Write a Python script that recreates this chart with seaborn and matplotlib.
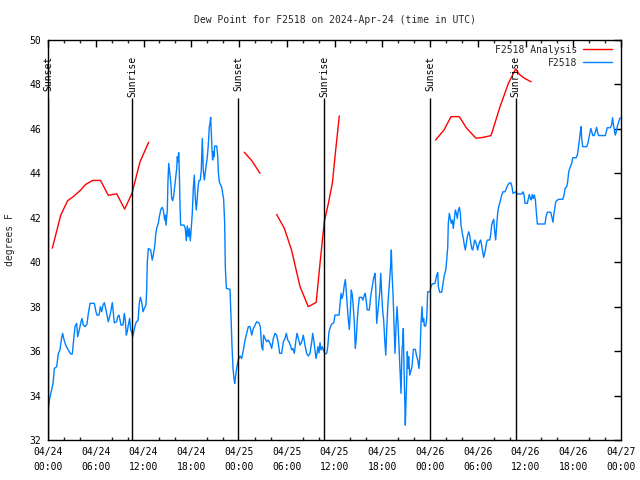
import numpy as np
import pandas as pd
import matplotlib
matplotlib.use("Agg")
import matplotlib.pyplot as plt
import seaborn as sns

title = "Dew Point for F2518 on 2024-Apr-24 (time in UTC)"
ylabel = "degrees F"
series_names = ["F2518 Analysis", "F2518"]
series_colors = ["#ff0000", "#0080ff"]

x_tick_hours = [0, 6, 12, 18, 24, 30, 36, 42, 48, 54, 60, 66, 72]
x_tick_labels = ["04/24\n00:00", "04/24\n06:00", "04/24\n12:00", "04/24\n18:00",
                 "04/25\n00:00", "04/25\n06:00", "04/25\n12:00", "04/25\n18:00",
                 "04/26\n00:00", "04/26\n06:00", "04/26\n12:00", "04/26\n18:00",
                 "04/27\n00:00"]
y_ticks = [32, 34, 36, 38, 40, 42, 44, 46, 48, 50]

sunset_hours = [0.0, 23.92, 48.0]
sunrise_hours = [10.6, 34.7, 58.75]

# Analysis (hourly model values), separated into segments where data exist
analysis_seg1_hours = [0.54, 1.6, 2.47, 3.18, 4.02, 4.73, 5.6, 6.6, 7.58, 8.2, 8.63, 9.63, 10.55, 11.56, 12.65]
analysis_seg1_values = [40.63, 42.12, 42.77, 42.95, 43.22, 43.5, 43.68, 43.68, 43.01, 43.05, 43.08, 42.39, 43.1, 44.52, 45.4]
analysis_seg2_hours = [24.67, 25.6, 26.64]
analysis_seg2_values = [44.95, 44.57, 44.0]
analysis_seg3_hours = [28.73, 29.7, 30.6, 31.67, 32.7, 33.7, 34.18, 34.72, 35.23, 35.73, 36.15, 36.6]
analysis_seg3_values = [42.15, 41.52, 40.55, 38.9, 38.0, 38.19, 39.95, 41.82, 42.65, 43.55, 45.05, 46.58]
analysis_seg4_hours = [48.7, 49.76, 50.64, 51.68, 52.6, 53.78, 54.7, 55.67, 56.8, 57.85, 58.77, 59.23, 59.86, 60.7]
analysis_seg4_values = [45.5, 45.95, 46.55, 46.55, 46.03, 45.58, 45.62, 45.7, 47.0, 48.05, 48.7, 48.45, 48.28, 48.12]

# Observations
obs_hours = [
    0.04, 0.2, 0.46, 0.63, 0.8, 1.09, 1.3, 1.5, 1.72, 1.84, 1.97, 2.22, 2.55, 2.85, 3.05, 3.23, 3.39, 3.6, 3.73, 3.93,
    4.15, 4.27, 4.44, 4.65, 4.9, 5.07, 5.28, 5.82, 6.03, 6.16, 6.41, 6.58, 6.75, 6.91, 7.08, 7.25, 7.41, 7.58, 7.79,
    7.92, 8.08, 8.2, 8.33, 8.63, 8.75, 8.92, 9.05, 9.17, 9.42, 9.59, 9.71, 9.84, 9.97, 10.09, 10.26, 10.39, 10.52,
    10.64, 10.77, 10.93, 11.1, 11.31, 11.47, 11.6, 11.77, 11.94, 12.1,
    12.31, 12.4, 12.48, 12.61, 12.9, 13.1, 13.23, 13.4, 13.53, 13.65, 13.86, 13.99, 14.16, 14.33, 14.49, 14.66, 14.74,
    14.83, 14.99, 15.08, 15.17, 15.24, 15.33, 15.46, 15.54, 15.67, 15.79, 15.92, 16.05, 16.17, 16.25, 16.34, 16.42,
    16.5, 16.59, 16.67, 17.09, 17.25, 17.38, 17.5, 17.63, 17.75, 17.88, 18.0, 18.13, 18.26, 18.38, 18.51, 18.63,
    18.72, 18.85, 18.97, 19.14, 19.26, 19.39, 19.51, 19.64, 19.77, 19.89, 20.02, 20.1, 20.19, 20.27, 20.36, 20.44,
    20.52, 20.61, 20.69, 20.77, 20.86, 20.94, 21.2, 21.32, 21.4, 21.52, 21.7, 21.82, 21.95, 22.07, 22.2, 22.28,
    22.41, 22.87, 22.96, 23.04, 23.12, 23.25, 23.37, 23.46,
    23.7, 23.9, 24.13, 24.34, 24.55, 24.76, 24.97, 25.17, 25.38, 25.6, 25.8, 26.01, 26.22, 26.51, 26.68, 26.85,
    26.98, 27.1, 27.27, 27.48, 27.68, 27.9, 28.11, 28.31, 28.52, 28.73, 28.94, 29.11, 29.36, 29.57, 29.78, 29.95,
    30.12, 30.28, 30.45, 30.62, 30.79, 30.95, 31.13, 31.29, 31.46, 31.67, 31.88, 32.08, 32.29, 32.5, 32.71, 32.92,
    33.14, 33.26, 33.39, 33.55, 33.68, 33.8, 33.93, 34.05, 34.18, 34.3, 34.47, 34.6, 34.81, 35.02, 35.15, 35.31,
    35.47, 35.65, 35.9, 36.06,
    36.57, 36.82, 36.94, 37.07, 37.23, 37.36, 37.48, 37.61, 37.74, 37.86, 37.99, 38.11, 38.24, 38.36, 38.49, 38.61,
    38.74, 38.86, 38.99, 39.12, 39.41, 39.57, 39.74, 39.87, 39.99, 40.12, 40.37, 40.55, 40.67, 40.84, 40.96, 41.09,
    41.18, 41.3, 41.43, 41.55, 41.68, 41.81, 41.93, 42.06, 42.18, 42.31, 42.44, 42.56, 42.69, 42.81, 42.94, 43.06,
    43.14, 43.23, 43.35, 43.48, 43.6, 43.73, 43.86, 43.98, 44.11, 44.23, 44.36, 44.48, 44.57, 44.65, 44.73, 44.82,
    44.9, 44.98, 45.07, 45.15, 45.24, 45.32, 45.45, 45.57, 45.74, 45.91, 46.16, 46.29, 46.46, 46.62, 46.75, 46.87,
    47.0, 47.09, 47.21, 47.29, 47.46, 47.59,
    47.71, 48.0, 48.13, 48.3, 48.63, 48.84, 48.97, 49.05, 49.22, 49.47, 49.64, 49.8, 49.98, 50.1, 50.23, 50.3, 50.43,
    50.55, 50.68, 50.81, 50.93, 51.06, 51.18, 51.31, 51.43, 51.56, 51.69, 51.81, 51.9, 52.06, 52.19, 52.31, 52.44,
    52.56, 52.69, 52.86, 52.98, 53.11, 53.24, 53.36, 53.49, 53.61, 53.74, 53.86, 53.99, 54.11, 54.24, 54.37, 54.49,
    54.62, 54.74, 54.87, 54.99, 55.12, 55.25, 55.5, 55.62, 55.75, 55.87, 56.0, 56.13, 56.25, 56.38, 56.5, 56.63,
    56.76, 56.88, 57.01, 57.17, 57.43, 57.59, 57.77, 57.93, 58.14, 58.3, 58.43, 58.59, 58.8, 58.97, 59.3, 59.52, 59.69,
    59.82, 59.94, 60.23, 60.36, 60.48, 60.61, 60.73, 60.86, 60.98, 61.11, 61.24, 61.32, 61.41, 61.49, 62.45, 62.58,
    62.75, 63.17, 63.3, 63.46, 63.55, 63.67, 63.8, 64.0, 64.21, 64.67, 64.84, 64.97, 65.18, 65.3, 65.43, 65.56,
    65.68, 65.81, 65.93, 66.35, 66.51, 66.64, 66.76, 66.89, 66.98, 67.06, 67.19, 67.7, 67.83, 67.96, 68.08, 68.21,
    68.33, 68.46, 68.63, 68.79, 68.93, 69.05, 69.18, 70.02, 70.14, 70.27, 70.65, 70.82, 70.94, 71.03, 71.16, 71.28,
    71.41, 71.53, 71.66, 71.78, 71.91,
]
obs_dewpoint = [
    33.42, 33.87, 34.25, 34.55, 35.22, 35.3, 35.9, 36.05, 36.62, 36.8, 36.57, 36.27, 36.05, 35.87, 35.87, 36.53, 37.1,
    37.25, 36.65, 36.95, 37.32, 37.47, 37.17, 37.1, 37.22, 37.7, 38.15, 38.15, 37.77, 37.62, 37.62, 38.0, 37.77, 38.07,
    38.18, 37.92, 37.62, 37.32, 37.62, 37.85, 38.18, 37.77, 37.27, 37.32, 37.55, 37.62, 37.4, 37.17, 37.17, 37.7, 37.4,
    36.72, 36.9, 37.17, 37.47, 36.95, 36.87, 36.65, 36.87, 37.13, 37.32, 37.37, 38.15, 38.42, 38.22, 37.77, 37.92,
    38.07, 38.75, 40.02, 40.62, 40.55, 40.1, 40.32, 40.7, 41.22, 41.52, 41.75, 42.05, 42.35, 42.47, 42.35, 41.9, 42.12,
    41.67, 42.35, 43.7, 44.45, 44.22, 43.92, 43.43, 42.87, 42.77, 42.98, 43.4, 43.85, 44.22, 44.75, 44.52, 44.93,
    44.07, 42.5, 41.67, 41.67, 41.52, 40.97, 41.63, 41.15, 41.52, 40.97, 41.52, 42.2, 43.33, 43.92, 42.87, 42.35,
    42.72, 43.37, 43.67, 43.7, 44.15, 45.57, 44.15, 43.7, 44.07, 44.45, 44.75, 45.08, 45.57, 46.1, 46.25, 46.52,
    45.8, 45.05, 44.6, 44.97, 44.75, 45.23, 45.23, 44.82, 44.07, 43.62, 43.47, 43.37, 43.1, 42.83, 41.75, 39.8,
    38.82, 38.78, 37.92, 37.1, 36.23, 35.22, 34.77, 34.55,
    35.22, 35.6, 35.78, 35.67, 36.05, 36.5, 36.8, 37.1, 37.1, 36.72, 37.02, 37.17, 37.32, 37.27, 37.1, 36.2,
    36.05, 36.72, 36.57, 36.42, 36.5, 36.35, 36.12, 36.57, 36.8, 36.72, 36.35, 35.9, 35.9, 36.42, 36.57, 36.8,
    36.5, 36.42, 36.27, 36.05, 36.12, 35.9, 36.42, 36.8, 36.57, 36.27, 36.42, 36.72, 36.27, 35.9, 35.78, 35.9,
    36.42, 36.8, 36.5, 36.05, 35.67, 35.9, 36.2, 35.92, 36.38, 36.05, 36.2, 36.05, 35.87, 35.9, 36.2, 36.87,
    37.07, 37.22, 37.27, 37.62,
    37.62, 38.6, 38.37, 38.52, 38.97, 39.22, 38.67, 38.0, 37.4, 36.98, 37.77, 38.75, 38.52, 38.0, 37.32, 36.12,
    36.57, 37.4, 38.0, 38.42, 38.42, 38.3, 38.52, 38.6, 38.22, 37.85, 37.85, 38.45, 38.75, 39.12, 39.35, 39.5,
    38.9, 37.25, 37.7, 38.15, 38.6, 39.5, 38.6, 37.77, 37.4, 36.5, 35.82, 36.95, 38.0, 38.6, 39.2, 39.87,
    40.55, 39.5, 38.6, 37.25, 35.9, 37.1, 38.0, 37.25, 36.2, 35.3, 34.1, 36.05, 36.35, 37.02, 35.3, 33.8,
    32.67, 33.72, 34.7, 35.97, 35.22, 35.75, 34.92, 35.07, 35.3, 36.08, 36.08, 35.82, 35.6, 35.22, 35.9, 37.25,
    38.0, 37.32, 37.47, 37.13, 37.13, 37.47,
    38.67, 38.67, 38.93, 39.02, 39.05, 39.42, 39.53, 38.9, 38.65, 38.65, 39.05, 39.42, 39.65, 40.1, 40.7, 41.75, 42.2,
    41.97, 41.75, 41.9, 41.52, 41.97, 42.35, 42.2, 41.97, 42.35, 42.47, 42.2, 41.67, 41.3, 41.07, 40.77, 40.55,
    40.85, 41.15, 41.37, 41.22, 40.92, 40.62, 40.55, 40.77, 41.0, 40.92, 40.77, 40.55, 40.77, 40.92, 41.0, 40.77,
    40.47, 40.22, 40.4, 40.62, 40.92, 41.0, 41.0, 41.22, 41.67, 41.82, 41.93, 41.37, 41.0, 41.67, 42.2, 42.5,
    42.65, 42.83, 43.02, 43.17, 43.17, 43.32, 43.47, 43.55, 43.58, 43.4, 43.1, 43.13, 43.17, 43.07, 43.07, 43.07, 43.17,
    43.02, 42.65, 42.65, 42.85, 43.05, 42.87, 42.8, 43.05, 42.87, 43.02, 42.8, 42.42, 42.05, 41.72, 41.72, 42.05,
    42.25, 42.25, 42.05, 41.8, 42.12, 42.42, 42.72, 42.8, 42.83, 42.83, 43.02, 43.32, 43.4, 43.62, 44.07, 44.22,
    44.34, 44.45, 44.7, 44.7, 44.82, 45.12, 45.5, 45.87, 46.1, 45.57, 45.2, 45.2, 45.35, 45.57, 45.8, 46.02,
    45.87, 45.7, 45.7, 45.87, 46.07, 45.87, 45.7, 45.7, 45.85, 46.05, 46.05, 46.17, 46.5, 46.25, 45.95, 45.72,
    45.87, 46.1, 46.25, 46.4, 46.5,
]

# ---- build long table ----
frames = []
for i, (h, v) in enumerate([(analysis_seg1_hours, analysis_seg1_values),
                            (analysis_seg2_hours, analysis_seg2_values),
                            (analysis_seg3_hours, analysis_seg3_values),
                            (analysis_seg4_hours, analysis_seg4_values)]):
    frames.append(pd.DataFrame({"hours": h, "dewpoint": v, "series": series_names[0], "segment": i}))
frames.append(pd.DataFrame({"hours": obs_hours, "dewpoint": obs_dewpoint, "series": series_names[1], "segment": 10}))
df = pd.concat(frames, ignore_index=True)

sns.set_theme(style="white")
plt.rcParams["font.family"] = ["DejaVu Sans Mono", "DejaVu Sans"]
plt.rcParams["font.size"] = 7

fig = plt.figure(figsize=(6.4, 4.8), dpi=100)
ax = fig.add_axes([48 / 640, 40 / 480, 573 / 640, 400 / 480])

sns.lineplot(data=df, x="hours", y="dewpoint", hue="series", units="segment",
             estimator=None, sort=False, hue_order=series_names,
             palette=dict(zip(series_names, series_colors)), linewidth=1.0, ax=ax)

ax.set_xlim(0, 72)
ax.set_ylim(32, 50)

# sunrise / sunset markers
for h in sunset_hours:
    ax.vlines(h, 32, 47.4, color="black", linewidth=1.0, zorder=3)
    ax.text(h, 49.3, "Sunset", rotation=90, ha="center", va="top", fontsize=7, color="black")
for h in sunrise_hours:
    ax.vlines(h, 32, 47.4, color="black", linewidth=1.0, zorder=3)
    ax.text(h, 49.3, "Sunrise", rotation=90, ha="center", va="top", fontsize=7, color="black")

ax.set_xticks(x_tick_hours)
ax.set_xticklabels(x_tick_labels, linespacing=1.6)
ax.set_xticks(np.arange(0, 73, 2), minor=True)
ax.set_yticks(y_ticks)
ax.set_yticklabels([str(t) for t in y_ticks])
ax.tick_params(axis="both", which="major", direction="in", length=5, width=1,
               top=True, right=True, labelsize=7, colors="black")
ax.tick_params(axis="x", which="minor", direction="in", length=2.5, width=1, top=True, bottom=True)
ax.tick_params(axis="x", which="major", pad=5)
ax.tick_params(axis="y", which="major", pad=5)
ax.set_xlabel("")
ax.set_ylabel("")
for s in ax.spines.values():
    s.set_color("black")
    s.set_linewidth(1.0)

handles, labels = ax.get_legend_handles_labels()
ax.legend(handles, labels, loc="upper right", bbox_to_anchor=(1 - 3 / 573, 1 + 1 / 400),
          frameon=False, markerfirst=False,
          fontsize=7, handlelength=3.0, borderaxespad=0.2, labelspacing=0.3,
          handletextpad=0.6)

fig.text(334.5 / 640, 1 - 20 / 480, title, ha="center", va="center", fontsize=7)
fig.text(10 / 640, 0.5, ylabel, rotation=90, ha="center", va="center", fontsize=7)

fig.savefig("out.png", dpi=100)
